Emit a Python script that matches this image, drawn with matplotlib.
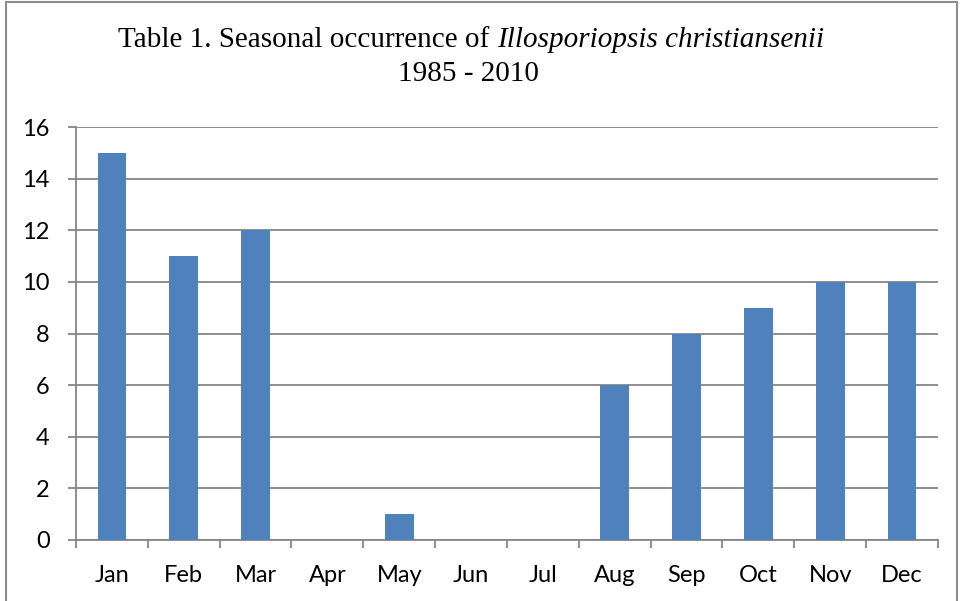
import matplotlib.pyplot as plt
from matplotlib.patches import Rectangle

months = ["Jan", "Feb", "Mar", "Apr", "May", "Jun", "Jul", "Aug", "Sep", "Oct", "Nov", "Dec"]
counts = [15, 11, 12, 0, 1, 0, 0, 6, 8, 9, 10, 10]

plt.rcParams["font.family"] = ["Lato", "DejaVu Sans"]

fig = plt.figure(figsize=(9.62, 6.01), dpi=100)
ax = fig.add_axes([76 / 962, 1 - 540 / 601, (938 - 76) / 962, (540 - 127) / 601])

x = list(range(len(months)))
ax.bar(x, counts, width=0.4, color="#4F81BD", zorder=3)

ax.set_xlim(-0.5, 11.5)
ax.set_ylim(0, 16)
ax.set_yticks(range(0, 17, 2))
ax.set_xticks(x)
ax.set_xticklabels(months)
ax.set_xticks([i - 0.5 for i in range(13)], minor=True)

grid_c = "#868686"
ax.yaxis.grid(True, color=grid_c, linewidth=1.3, zorder=0)
for s in ["top", "right"]:
    ax.spines[s].set_visible(False)
for s in ["left", "bottom"]:
    ax.spines[s].set_color(grid_c)
    ax.spines[s].set_linewidth(1.3)

ax.tick_params(axis="x", which="major", length=0, pad=18, labelsize=17)
ax.tick_params(axis="x", which="minor", length=6, width=1.3, color=grid_c)
ax.tick_params(axis="y", length=6, width=1.3, color=grid_c, pad=13, labelsize=17)

# title, serif with italic species name
split_x = 497 / 962
fig.text(split_x, 1 - 47 / 601, "Table 1. Seasonal occurrence of ", ha="right",
         va="baseline", fontsize=21, family="Liberation Serif")
fig.text(split_x, 1 - 47 / 601, "Illosporiopsis christiansenii", ha="left",
         va="baseline", fontsize=21, family="Liberation Serif", style="italic")
fig.text(468 / 962, 1 - 81 / 601, "1985 - 2010", ha="center", va="baseline",
         fontsize=21, family="Liberation Serif")

# chart border
fig.patches.append(Rectangle((6 / 962, -0.05), (957 - 6) / 962, 1.05 - 2 / 601,
                             transform=fig.transFigure, fill=False,
                             edgecolor="#8c8c8c", linewidth=1.5))

fig.savefig("out.png", dpi=100)
